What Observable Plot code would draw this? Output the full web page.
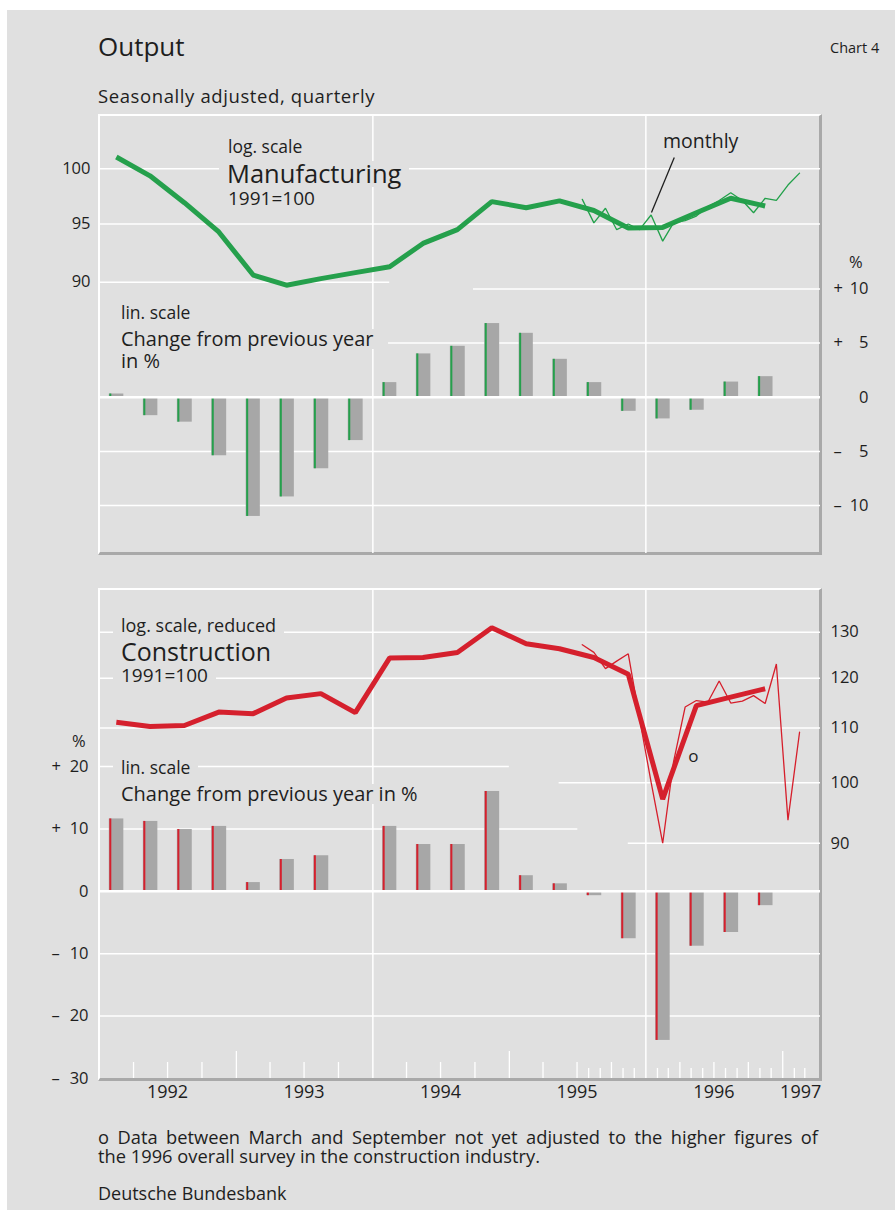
<!DOCTYPE html>
<html><head><meta charset="utf-8">
<script src="https://cdn.jsdelivr.net/npm/d3@7"></script>
<script src="https://cdn.jsdelivr.net/npm/@observablehq/plot@0.6"></script>
<style>
html,body{margin:0;padding:0;background:#fff;}
#page{position:relative;width:895px;height:1210px;overflow:hidden;font-family:"Open Sans",sans-serif;color:#1e1e1e;}
#bg{position:absolute;left:7px;top:10px;right:0;bottom:0;background:#e0e0e0;}
.t{position:absolute;white-space:nowrap;line-height:1;}
.box{background:#e0e0e0;padding:0 8px;margin-left:-8px;}
.frame{position:absolute;box-sizing:border-box;border-left:2px solid #fff;border-top:2px solid #fff;border-right:3px solid #a9a9a9;border-bottom:3px solid #a9a9a9;}
</style></head>
<body><div id="page"><div id="bg"></div></div>
<script>
// ---------- data ----------
const quarters = ["1992 Q1","1992 Q2","1992 Q3","1992 Q4","1993 Q1","1993 Q2","1993 Q3","1993 Q4",
  "1994 Q1","1994 Q2","1994 Q3","1994 Q4","1995 Q1","1995 Q2","1995 Q3","1995 Q4",
  "1996 Q1","1996 Q2","1996 Q3","1996 Q4"];
const months = ["1995-07","1995-08","1995-09","1995-10","1995-11","1995-12",
  "1996-01","1996-02","1996-03","1996-04","1996-05","1996-06","1996-07","1996-08","1996-09",
  "1996-10","1996-11","1996-12","1997-01","1997-02"];

const manufacturingIndexQ = [101.1, 99.35, 96.9, 94.3, 90.6, 89.75, 90.3, 90.8, 91.3, 93.3, 94.5, 97.0,
  96.45, 97.06, 96.2, 94.65, 94.7, 96.0, 97.3, 96.6];
const manufacturingIndexM = [97.2, 95.1, 96.4, 94.5, 95.0, 94.5, 95.8, 93.5, 95.1, 95.3, 95.7, 96.55,
  97.1, 97.8, 97.1, 96.0, 97.3, 97.1, 98.5, 99.6];
const manufacturingChangeQ = [0.3, -1.7, -2.3, -5.4, -11.0, -9.2, -6.6, -4.0, 1.35, 4.0, 4.7, 6.8,
  5.9, 3.5, 1.35, -1.3, -2.0, -1.2, 1.4, 1.9];

const constructionIndexQ = [111.1, 110.3, 110.5, 113.1, 112.8, 115.9, 116.8, 113.0, 124.3, 124.4, 125.5, 131.0,
  127.4, 126.3, 124.4, 120.8, 97.2, 114.4, 116.1, 117.8];
const constructionIndexM = [127.2, 125.5, 122.0, 123.6, 125.2, 111.9, 100.1, 90.0, 103.7, 114.1, 115.4, 115.1,
  119.4, 114.9, 115.3, 116.4, 114.8, 123.0, 93.7, 109.2];
const constructionChangeQ = [11.6, 11.2, 9.9, 10.4, 1.4, 5.1, 5.7, 0, 10.4, 7.5, 7.5, 16.0,
  2.5, 1.2, -0.7, -7.6, -23.9, -8.8, -6.6, -2.3];

const yearLabels = ["1992","1993","1994","1995","1996","1997"];
const topIndexTicks = [100, 95, 90];
const topPctTicks = [10, 5, 0, -5, -10];
const botIndexTicks = [130, 120, 110, 100, 90];
const botPctTicks = [20, 10, 0, -10, -20, -30];

// ---------- helpers ----------
const D = (y, m, d = 1) => new Date(Date.UTC(y, m - 1, d));
const X0 = D(1992,1,1), X1 = D(1997,4,12);
const qInfo = quarters.map(q => { const [y, n] = q.split(" Q").map(Number);
  return {start: D(y, 3*(n-1)+1), end: D(y, 3*n+1), mid: D(y, 3*(n-1)+2, 15)}; });
const mInfo = months.map(s => { const [y, m] = s.split("-").map(Number); return D(y, m, 15); });
const series = (vals, dates) => vals.map((v, i) => ({date: dates[i], v}));
const manuQ = series(manufacturingIndexQ, qInfo.map(d => d.mid));
const manuM = series(manufacturingIndexM, mInfo);
const consQ = series(constructionIndexQ, qInfo.map(d => d.mid));
const consM = series(constructionIndexM, mInfo);
const manuBars = manufacturingChangeQ.map((v, i) => ({...qInfo[i], v}));
const consBars = constructionChangeQ.map((v, i) => ({...qInfo[i], v}));

const GREEN = "#25a04c", GREEN_T = "#22a04a", RED = "#d5202d", RED_T = "#d61e2b", BAR = "#a7a7a7", WHITE = "#ffffff";

// gridline extents (layout)
const ext = (map, v) => map[v] || [X0, X1];
const topIdxExt = {90: [X0, D(1994,2,15)]};
const topPctExt = {10: [D(1994,9,27), X1], 5: [D(1994,2,12), X1]};
const botIdxExt = {100: [D(1995,5,14), X1], 90: [D(1995,11,15), X1]};
const botPctExt = {20: [X0, D(1995,1,1)], 10: [X0, D(1995,7,3)]};
const yearLines = [D(1994,1,1), D(1996,1,1)];
const quarterTicks = d3.utcMonth.range(D(1992,1,1), D(1997,1,1), 3).filter(d => d.getUTCMonth() !== 0);
const yearTicks = [D(1993,1,1), D(1995,1,1), D(1997,1,1)];
const monthTicks = d3.utcMonth.range(D(1995,7,1), D(1997,4,1)).filter(d => d.getUTCMonth() % 3 !== 0);
const yearLabelData = yearLabels.map(s => ({label: s, date: s === "1997" ? D(1997,2,18) : D(+s, 7, 1)}));

const page = document.getElementById("page");
function frame(top, height) {
  const f = document.createElement("div"); f.className = "frame";
  Object.assign(f.style, {left: "98px", top: top + "px", width: "724px", height: height + "px"});
  page.appendChild(f);
}
function addPlot(top, height, mt, mb, yOpts, marks) {
  const svg = Plot.plot({
    width: 895, height, marginLeft: 99, marginRight: 75, marginTop: mt, marginBottom: mb,
    style: {background: "transparent", fontFamily: "'Open Sans', sans-serif", fontSize: "16.5px", color: "#1e1e1e", overflow: "visible"},
    x: {type: "utc", domain: [X0, X1], axis: null},
    y: {...yOpts, axis: null},
    marks
  });
  Object.assign(svg.style, {position: "absolute", left: "0px", top: top + "px", maxWidth: "none"});
  page.appendChild(svg);
}
function txt(s, x, base, size, o = {}) {
  const d = document.createElement("div");
  d.className = "t" + (o.box ? " box" : "");
  d.textContent = s;
  Object.assign(d.style, {left: x + "px", top: (base - 0.888 * size) + "px", fontSize: size + "px"});
  if (o.ls) d.style.letterSpacing = o.ls + "px";
  page.appendChild(d);
  return d;
}

// panel geometry
const TOP = {top: 100, h: 470, mt: 15, mb: 17, idx: {type: "log", domain: [69.94, 105.08]}, pct: {type: "linear", domain: [-14.42, 26.0]}};
const BOT = {top: 575, h: 540, mt: 14, mb: 37, idx: {type: "log", domain: [59.73, 140.04]}, pct: {type: "linear", domain: [-30, 48.37]}};

frame(114, 441);
frame(588, 493);

// ---------- grid layers ----------
const gridRule = (ticks, map) => Plot.ruleY(ticks, {y: d => d, x1: d => ext(map, d)[0], x2: d => ext(map, d)[1], stroke: WHITE, strokeWidth: 1.5});
addPlot(TOP.top, TOP.h, TOP.mt, TOP.mb, TOP.idx, [
  gridRule(topIndexTicks, topIdxExt),
  Plot.ruleX(yearLines, {stroke: WHITE, strokeWidth: 1.5})
]);
addPlot(TOP.top, TOP.h, TOP.mt, TOP.mb, TOP.pct, [
  gridRule(topPctTicks.filter(d => d !== 0), topPctExt)
]);
addPlot(BOT.top, BOT.h, BOT.mt, BOT.mb, BOT.idx, [
  gridRule(botIndexTicks, botIdxExt),
  Plot.ruleX(yearLines, {stroke: WHITE, strokeWidth: 1.5})
]);
addPlot(BOT.top, BOT.h, BOT.mt, BOT.mb, BOT.pct, [
  gridRule(botPctTicks.filter(d => d !== 0 && d !== -30), botPctExt),
  Plot.ruleX(quarterTicks, {stroke: WHITE, strokeWidth: 1.3, insetTop: 473}),
  Plot.ruleX(monthTicks, {stroke: WHITE, strokeWidth: 1.3, insetTop: 479}),
  Plot.ruleX(yearTicks, {stroke: WHITE, strokeWidth: 1.3, insetTop: 462})
]);

// ---------- text blocks (with background boxes where they cut gridlines) ----------
txt("Output", 98, 56, 26);
txt("Chart 4", 830, 54, 14.5);
txt("Seasonally adjusted, quarterly", 98, 103, 18.5, {ls: 0.6});
txt("log. scale", 228, 154, 17.5);
txt("Manufacturing", 227, 184, 25.5, {box: 1});
txt("1991=100", 228, 205.5, 19);
txt("monthly", 663, 148, 19.5);
txt("lin. scale", 121, 320, 17.5);
txt("Change from previous year", 121, 346.5, 20, {box: 1});
txt("in %", 121, 369, 20);
txt("%", 849, 269, 16.5);
txt("log. scale, reduced", 121, 632.3, 18, {box: 1});
txt("Construction", 121, 661, 25);
txt("1991=100", 121, 683, 19, {box: 1});
txt("lin. scale", 121, 774.3, 17.5, {box: 1});
txt("Change from previous year in %", 121, 801.5, 20, {box: 1});
txt("%", 72, 748, 16.5);
const f1 = txt("o Data between March and September not yet adjusted to the higher figures of", 98, 1144, 18.3);
Object.assign(f1.style, {width: "720px", whiteSpace: "normal", textAlign: "justify", textAlignLast: "justify"});
txt("the 1996 overall survey in the construction industry.", 98, 1163, 18.3);
txt("Deutsche Bundesbank", 98, 1200, 18);

// ---------- data layers ----------
const bars = (data, color) => [
  Plot.rect(data, {x1: "start", x2: "end", y1: () => 0, y2: "v", fill: BAR, insetLeft: 9.8, insetRight: 9.7}),
  Plot.ruleX(data, {x: "start", y1: () => 0, y2: "v", stroke: color, strokeWidth: 2, dx: 10.8}),
  Plot.ruleY([0], {stroke: WHITE, strokeWidth: 2.5})
];
const signText = d => d > 0 ? "+" : d < 0 ? "–" : "";
const absText = d => String(Math.abs(d));

// top: percent bars + right axis
addPlot(TOP.top, TOP.h, TOP.mt, TOP.mb, TOP.pct, [
  ...bars(manuBars, GREEN),
  Plot.text(topPctTicks, {y: d => d, text: signText, frameAnchor: "right", textAnchor: "start", dx: 13, fontSize: 16.5}),
  Plot.text(topPctTicks, {y: d => d, text: absText, frameAnchor: "right", textAnchor: "end", dx: 48, fontSize: 16.5})
]);
// top: index lines + left axis
const leader = [{x1: D(1996,3,17), y1: 101.06, x2: D(1996,1,16), y2: 96.02}];
addPlot(TOP.top, TOP.h, TOP.mt, TOP.mb, TOP.idx, [
  Plot.line(manuQ, {x: "date", y: "v", stroke: GREEN, strokeWidth: 5, strokeLinejoin: "miter", strokeLinecap: "butt"}),
  Plot.line(manuM, {x: "date", y: "v", stroke: GREEN_T, strokeWidth: 1.3, strokeLinejoin: "miter"}),
  Plot.link(leader, {x1: "x1", y1: "y1", x2: "x2", y2: "y2", stroke: "#1e1e1e", strokeWidth: 1.3}),
  Plot.text(topIndexTicks, {y: d => d, text: d => String(d), frameAnchor: "left", textAnchor: "end", dx: -9, fontSize: 16.5})
]);
// bottom: percent bars + left axis + x labels
addPlot(BOT.top, BOT.h, BOT.mt, BOT.mb, BOT.pct, [
  ...bars(consBars, RED),
  Plot.text(botPctTicks, {y: d => d, text: signText, frameAnchor: "left", textAnchor: "start", dx: -48, fontSize: 16.5}),
  Plot.text(botPctTicks, {y: d => d, text: absText, frameAnchor: "left", textAnchor: "end", dx: -11, fontSize: 16.5}),
  Plot.text(yearLabelData, {x: "date", text: "label", frameAnchor: "bottom", dy: 19, fontSize: 18})
]);
// bottom: index lines + right axis
const oNote = [{date: D(1996,5,7), v: 104.7, label: "o"}];
addPlot(BOT.top, BOT.h, BOT.mt, BOT.mb, BOT.idx, [
  Plot.line(consQ, {x: "date", y: "v", stroke: RED, strokeWidth: 5, strokeLinejoin: "miter", strokeLinecap: "butt"}),
  Plot.line(consM, {x: "date", y: "v", stroke: RED_T, strokeWidth: 1.3, strokeLinejoin: "miter"}),
  Plot.text(oNote, {x: "date", y: "v", text: "label", fontSize: 17}),
  Plot.text(botIndexTicks, {y: d => d, text: d => String(d), frameAnchor: "right", textAnchor: "start", dx: 10, fontSize: 16.5})
]);
</script></body></html>
